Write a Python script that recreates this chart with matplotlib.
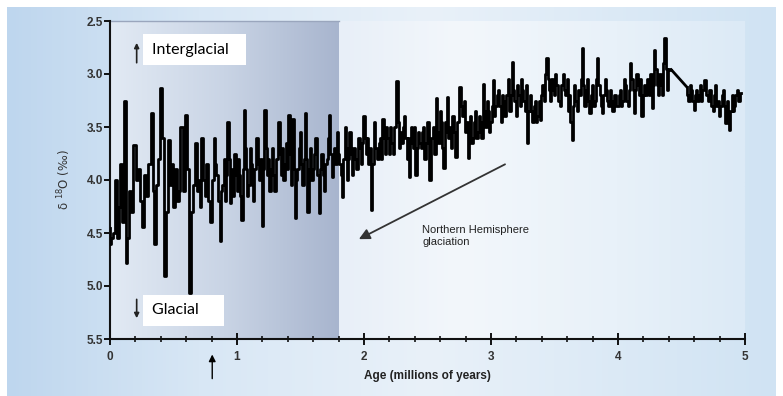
import numpy as np
import matplotlib
matplotlib.use("Agg")
import matplotlib.pyplot as plt
from matplotlib.colors import LinearSegmentedColormap
from matplotlib.ticker import MultipleLocator

# ---------------- data: (age Ma, d18O permil) read from the record ----------------
seg_0_08 = [(0.00, 4.45), (0.005, 4.60), (0.015, 4.55), (0.03, 4.50), (0.045, 4.00), (0.06, 4.55),
            (0.075, 4.25), (0.09, 3.85), (0.10, 4.40), (0.115, 3.25), (0.13, 4.78), (0.145, 4.55),
            (0.16, 4.10), (0.175, 4.30), (0.195, 3.67), (0.21, 4.00), (0.225, 3.90), (0.245, 4.20),
            (0.26, 4.44), (0.275, 3.95), (0.29, 4.15), (0.31, 3.85), (0.33, 3.37), (0.345, 4.10),
            (0.355, 4.60), (0.37, 4.05), (0.385, 3.80), (0.40, 3.13), (0.415, 3.60), (0.43, 4.91),
            (0.445, 4.30), (0.465, 3.62), (0.48, 4.05), (0.49, 3.85), (0.50, 4.25), (0.52, 3.90),
            (0.535, 4.20), (0.545, 4.10), (0.565, 3.50), (0.58, 4.10), (0.60, 3.39), (0.615, 3.90),
            (0.63, 5.07), (0.645, 4.30), (0.66, 4.05), (0.675, 3.65), (0.69, 4.10), (0.705, 4.00),
            (0.715, 4.25), (0.725, 3.60), (0.74, 4.00), (0.75, 4.15), (0.76, 3.85), (0.78, 4.20)]

seg_08_156 = [(0.80, 4.40), (0.81, 4.00), (0.82, 3.60), (0.83, 3.85), (0.845, 3.95), (0.855, 4.20),
              (0.87, 4.58), (0.88, 4.10), (0.89, 4.05), (0.90, 3.80), (0.91, 4.20), (0.92, 3.95),
              (0.93, 3.45), (0.94, 3.80), (0.95, 4.22), (0.96, 4.00), (0.965, 3.90), (0.975, 4.15),
              (0.985, 3.75), (0.995, 3.95), (1.00, 4.10), (1.01, 3.80), (1.02, 3.95), (1.03, 4.15),
              (1.04, 4.38), (1.05, 3.90), (1.06, 3.34), (1.07, 3.70), (1.075, 3.90), (1.085, 4.15),
              (1.095, 4.05), (1.105, 3.70), (1.11, 3.85), (1.12, 4.05), (1.13, 4.20), (1.145, 3.90),
              (1.16, 3.60), (1.17, 3.85), (1.18, 4.00), (1.19, 3.80), (1.20, 4.43), (1.21, 3.90),
              (1.22, 3.34), (1.23, 3.70), (1.24, 3.95), (1.25, 3.80), (1.26, 4.10), (1.27, 3.90),
              (1.28, 3.70), (1.29, 3.95), (1.30, 4.10), (1.315, 3.80), (1.33, 3.45), (1.34, 3.75),
              (1.35, 3.95), (1.36, 3.70), (1.37, 4.00), (1.38, 3.85), (1.39, 3.65), (1.40, 3.90),
              (1.41, 3.39), (1.42, 3.75), (1.43, 4.05), (1.44, 3.42), (1.45, 3.90), (1.46, 4.36),
              (1.47, 4.00), (1.48, 3.90), (1.49, 3.70), (1.50, 3.55), (1.51, 3.85), (1.52, 4.05),
              (1.53, 3.80), (1.54, 3.37), (1.55, 3.80), (1.56, 4.30)]

seg_156_245 = [(1.57, 3.90), (1.58, 3.70), (1.59, 4.00), (1.60, 3.90), (1.61, 3.75), (1.62, 3.60),
               (1.635, 3.95), (1.65, 4.31), (1.66, 3.90), (1.67, 3.75), (1.68, 3.95), (1.69, 4.10),
               (1.70, 3.85), (1.71, 3.80), (1.72, 3.60), (1.73, 3.39), (1.74, 3.75), (1.75, 3.97),
               (1.76, 3.80), (1.77, 3.70), (1.78, 3.85), (1.79, 3.55), (1.80, 3.75), (1.81, 3.85),
               (1.82, 3.95), (1.83, 4.16), (1.84, 3.80), (1.855, 3.50), (1.86, 3.70), (1.87, 4.00),
               (1.88, 3.80), (1.89, 3.55), (1.90, 3.75), (1.91, 3.95), (1.92, 3.70), (1.935, 3.80),
               (1.945, 3.90), (1.96, 3.60), (1.97, 3.70), (1.98, 3.85), (1.99, 3.65), (2.00, 3.40),
               (2.01, 3.60), (2.02, 3.75), (2.03, 3.60), (2.04, 3.85), (2.05, 3.70), (2.06, 4.28),
               (2.07, 3.85), (2.085, 3.45), (2.095, 3.70), (2.11, 3.80), (2.12, 3.65), (2.13, 3.60),
               (2.14, 3.80), (2.15, 3.42), (2.16, 3.60), (2.17, 3.75), (2.18, 3.50), (2.19, 3.60),
               (2.20, 3.75), (2.21, 3.50), (2.22, 3.65), (2.23, 3.75), (2.245, 3.50), (2.26, 3.07),
               (2.27, 3.45), (2.28, 3.70), (2.29, 3.55), (2.30, 3.65), (2.31, 3.50), (2.32, 3.40),
               (2.33, 3.60), (2.34, 3.80), (2.35, 3.60), (2.355, 3.97), (2.365, 3.65), (2.37, 3.50),
               (2.38, 3.60), (2.39, 3.70), (2.40, 3.50), (2.41, 3.95), (2.42, 3.70), (2.43, 3.55),
               (2.44, 3.65)]

seg_245_328 = [(2.45, 3.70), (2.46, 3.55), (2.47, 3.50), (2.48, 3.80), (2.49, 3.65), (2.50, 3.45),
               (2.52, 4.00), (2.53, 3.60), (2.55, 3.50), (2.56, 3.75), (2.57, 3.23), (2.58, 3.55),
               (2.59, 3.65), (2.60, 3.35), (2.61, 3.45), (2.62, 3.70), (2.63, 3.89), (2.64, 3.45),
               (2.65, 3.55), (2.66, 3.22), (2.67, 3.60), (2.68, 3.50), (2.69, 3.70), (2.70, 3.40),
               (2.71, 3.55), (2.73, 3.78), (2.74, 3.45), (2.76, 3.12), (2.77, 3.30), (2.78, 3.40),
               (2.79, 3.25), (2.80, 3.55), (2.81, 3.45), (2.82, 3.79), (2.83, 3.50), (2.84, 3.40),
               (2.85, 3.65), (2.86, 3.60), (2.87, 3.45), (2.88, 3.35), (2.89, 3.60), (2.90, 3.55),
               (2.91, 3.40), (2.92, 3.45), (2.93, 3.60), (2.94, 3.09), (2.95, 3.35), (2.96, 3.50),
               (2.97, 3.25), (2.98, 3.35), (2.99, 3.55), (3.00, 3.45), (3.01, 3.30), (3.02, 3.06),
               (3.03, 3.40), (3.04, 3.30), (3.05, 3.20), (3.06, 3.15), (3.07, 3.30), (3.08, 3.45),
               (3.09, 3.20), (3.10, 3.25), (3.11, 3.40), (3.13, 3.20), (3.14, 3.05), (3.15, 3.35),
               (3.16, 3.20), (3.17, 2.89), (3.18, 3.15), (3.19, 3.25), (3.20, 3.40), (3.21, 3.10),
               (3.22, 3.20), (3.23, 3.30), (3.24, 3.05), (3.25, 3.15), (3.26, 3.25), (3.27, 3.35),
               (3.28, 3.10)]

seg_328_408 = [(3.29, 3.65), (3.30, 3.35), (3.31, 3.20), (3.32, 3.35), (3.33, 3.45), (3.34, 3.30),
               (3.35, 3.25), (3.36, 3.45), (3.37, 3.40), (3.38, 3.25), (3.39, 3.43), (3.40, 3.20),
               (3.41, 3.10), (3.42, 3.25), (3.43, 3.00), (3.44, 2.85), (3.45, 3.05), (3.46, 3.15),
               (3.47, 3.25), (3.48, 3.05), (3.49, 3.15), (3.50, 3.20), (3.51, 3.00), (3.52, 3.10),
               (3.53, 3.25), (3.55, 3.30), (3.56, 3.10), (3.57, 3.00), (3.58, 3.15), (3.59, 3.20),
               (3.60, 3.05), (3.61, 3.35), (3.62, 3.20), (3.63, 3.45), (3.64, 3.62), (3.65, 3.30),
               (3.66, 3.10), (3.67, 3.25), (3.68, 3.35), (3.69, 3.15), (3.70, 3.20), (3.71, 3.05),
               (3.72, 2.75), (3.73, 3.10), (3.74, 3.30), (3.75, 3.15), (3.76, 3.05), (3.77, 3.25),
               (3.78, 3.37), (3.79, 3.20), (3.80, 3.10), (3.81, 3.30), (3.82, 3.25), (3.83, 3.05),
               (3.84, 2.85), (3.85, 3.10), (3.86, 3.20), (3.87, 3.30), (3.88, 3.37), (3.89, 3.20),
               (3.90, 3.05), (3.91, 3.15), (3.92, 3.25), (3.93, 3.30), (3.94, 3.15), (3.95, 3.25),
               (3.96, 3.35), (3.97, 3.20), (3.98, 3.20), (3.99, 3.30), (4.00, 3.30), (4.01, 3.20),
               (4.02, 3.15), (4.03, 3.30), (4.04, 3.25), (4.05, 3.05), (4.06, 3.10), (4.07, 3.25)]

seg_408_442 = [(4.08, 3.30), (4.09, 3.15), (4.10, 2.90), (4.11, 3.05), (4.12, 3.15), (4.13, 3.37),
               (4.14, 3.15), (4.15, 3.00), (4.16, 3.10), (4.17, 3.20), (4.18, 3.05), (4.19, 3.40),
               (4.20, 3.20), (4.21, 3.10), (4.22, 3.20), (4.23, 3.05), (4.24, 3.15), (4.25, 3.20),
               (4.26, 3.00), (4.27, 3.32), (4.28, 3.10), (4.29, 2.77), (4.30, 2.95), (4.31, 3.10),
               (4.32, 3.20), (4.33, 3.00), (4.34, 3.10), (4.35, 3.20), (4.36, 2.90), (4.37, 2.66),
               (4.38, 2.95), (4.39, 3.15), (4.40, 2.95), (4.42, 2.96)]

seg_454_5 = [(4.54, 3.12), (4.55, 3.20), (4.56, 3.25), (4.57, 3.10), (4.58, 3.15), (4.59, 3.25),
             (4.60, 3.34), (4.61, 3.20), (4.62, 3.15), (4.63, 3.25), (4.64, 3.20), (4.65, 3.10),
             (4.66, 3.25), (4.67, 3.15), (4.69, 3.06), (4.70, 3.20), (4.71, 3.25), (4.72, 3.15),
             (4.73, 3.15), (4.74, 3.30), (4.75, 3.35), (4.76, 3.20), (4.77, 3.10), (4.78, 3.30),
             (4.79, 3.25), (4.80, 3.40), (4.81, 3.30), (4.82, 3.20), (4.83, 3.15), (4.84, 3.30),
             (4.85, 3.46), (4.86, 3.25), (4.87, 3.40), (4.88, 3.53), (4.89, 3.35), (4.90, 3.20),
             (4.91, 3.35), (4.92, 3.30), (4.93, 3.20), (4.94, 3.15), (4.95, 3.25), (4.97, 3.18)]

x_ticks = [0, 1, 2, 3, 4, 5]
y_ticks = [2.5, 3.0, 3.5, 4.0, 4.5, 5.0, 5.5]
shade_end = 1.8

dense = seg_0_08 + seg_08_156 + seg_156_245 + seg_245_328 + seg_328_408 + seg_408_442
age_a, val_a = zip(*dense)
age_c, val_c = zip(*seg_454_5)

# ---------------- figure ----------------
W, H = 783, 396
fig = plt.figure(figsize=(W / 100, H / 100), dpi=100)
fig.patch.set_facecolor("white")

bg = fig.add_axes([7 / W, 0, 1 - 14 / W, 1 - 7 / H])
bg.set_axis_off()
bg_cmap = LinearSegmentedColormap.from_list(
    "bg", [(0, "#bed6ee"), (0.25, "#d8e7f5"), (0.55, "#e9f1f9"), (1.0, "#d0e3f3")])
bg.imshow(np.linspace(0, 1, 256)[None, :], aspect="auto", cmap=bg_cmap,
          extent=[0, 1, 0, 1], zorder=0)

ax = fig.add_axes([110 / W, 1 - 339 / H, 635 / W, 318 / H])
ax.patch.set_alpha(0)

plot_cmap = LinearSegmentedColormap.from_list(
    "pl", [(0, "#e6eef7"), (0.36, "#e8eff8"), (0.55, "#f3f7fb"), (0.8, "#e8f1f9"), (1.0, "#dceaf6")])
ax.imshow(np.linspace(0, 1, 256)[None, :], aspect="auto", cmap=plot_cmap,
          extent=[0, 5, 5.5, 2.5], zorder=0)
shade_cmap = LinearSegmentedColormap.from_list(
    "sh", [(0, "#e2eaf4"), (0.5, "#c9d4e5"), (1.0, "#a8b5ce")])
ax.imshow(np.linspace(0, 1, 256)[None, :], aspect="auto", cmap=shade_cmap,
          extent=[0, shade_end, 5.5, 2.5], zorder=0.5)
ax.plot([0, shade_end], [2.5, 2.5], color="#9aa6bd", lw=1, zorder=0.6, clip_on=False)

ax.plot(age_a, val_a, color="black", lw=2.0, drawstyle="steps-mid", zorder=3)
ax.plot([age_a[-1], age_c[0]], [val_a[-1], val_c[0]], color="black", lw=2.0, zorder=3)
ax.plot(age_c, val_c, color="black", lw=2.0, drawstyle="steps-mid", zorder=3)
ax.set_xlim(0, 5)
ax.set_ylim(5.5, 2.5)

for s in ["top", "right"]:
    ax.spines[s].set_visible(False)
for s in ["left", "bottom"]:
    ax.spines[s].set_linewidth(1.5)
    ax.spines[s].set_color("#111111")

ax.set_xticks(x_ticks)
ax.set_yticks(y_ticks)
ax.set_yticklabels([f"{v:.1f}" for v in y_ticks])
ax.xaxis.set_minor_locator(MultipleLocator(0.2))
ax.tick_params(axis="x", which="major", direction="inout", length=8, width=1.3, labelsize=8.5,
               labelcolor="#333333", pad=5)
ax.tick_params(axis="x", which="minor", direction="inout", length=5, width=1.1)
ax.tick_params(axis="y", which="major", direction="out", length=4, width=1.3, labelsize=8.5,
               labelcolor="#333333", pad=1)
for lab in ax.get_xticklabels() + ax.get_yticklabels():
    lab.set_fontweight("bold")
    lab.set_family("Liberation Sans")

ax.set_xlabel("Age (millions of years)", fontsize=8.5, fontweight="bold", color="#222222",
              family="Liberation Sans", labelpad=5)
ax.set_ylabel("δ $^{18}$O (‰)", fontsize=8.5, color="#333333", labelpad=10)

ax.text(0.33, 2.77, "Interglacial  ", fontsize=11.5, family="Lato", va="center", ha="left",
        bbox=dict(boxstyle="square,pad=0.55", fc="white", ec="none"), zorder=4)
ax.text(0.33, 5.23, "Glacial    ", fontsize=11.5, family="Lato", va="center", ha="left",
        bbox=dict(boxstyle="square,pad=0.55", fc="white", ec="none"), zorder=4)
ax.annotate("", xy=(0.21, 2.68), xytext=(0.21, 2.92),
            arrowprops=dict(arrowstyle="-|>", color="#222222", lw=1.2, mutation_scale=7))
ax.annotate("", xy=(0.21, 5.33), xytext=(0.21, 5.1),
            arrowprops=dict(arrowstyle="-|>", color="#222222", lw=1.2, mutation_scale=7))

ax.annotate("", xy=(1.94, 4.57), xytext=(3.13, 3.84),
            arrowprops=dict(arrowstyle="-|>", color="#333333", lw=1.3, mutation_scale=16))
ax.text(2.46, 4.42, "Northern Hemisphere\nglaciation", fontsize=8, family="Liberation Sans",
        color="#222222", va="top", ha="left", linespacing=1.3)

ax.annotate("", xy=(0.805, 5.62), xytext=(0.805, 5.9), xycoords="data",
            arrowprops=dict(arrowstyle="-|>", color="black", lw=1.0, mutation_scale=10),
            annotation_clip=False)

fig.savefig("out.png", dpi=100)
